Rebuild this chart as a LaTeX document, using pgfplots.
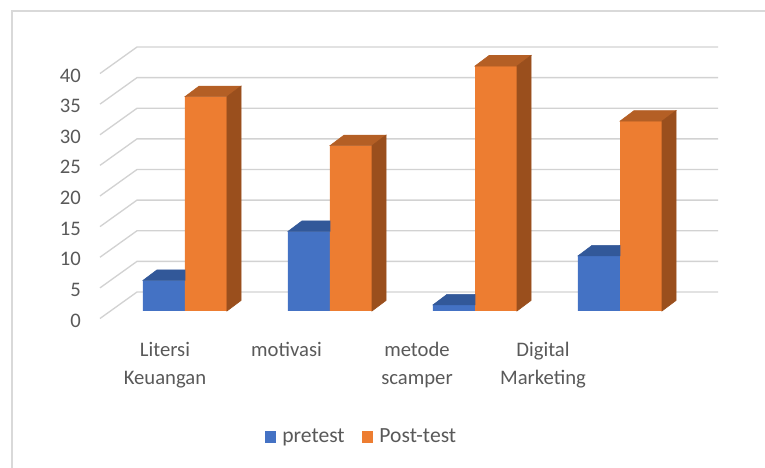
\documentclass[border=0pt]{standalone}
\usepackage{pgfplots}
\usepackage{pgfplotstable}
\pgfplotsset{compat=1.18}
\usepackage{fontspec}
\setmainfont{Carlito}
\definecolor{txt}{HTML}{595959}
\definecolor{gridc}{HTML}{D2D2D2}
\definecolor{framec}{HTML}{D9D9D9}
\definecolor{blueF}{HTML}{4472C4}
\definecolor{blueT}{HTML}{325899}
\definecolor{orangeF}{HTML}{ED7D31}
\definecolor{orangeT}{HTML}{B45F25}
\definecolor{orangeS}{HTML}{9A4F1D}
\pgfplotstableread{
idx pre post
1 5 35
2 13 27
3 1 40
4 9 31
}\data
\pgfdeclareplotmark{nomark}{}
% top + side faces of a bar, drawn at the top centre of its front face
\newcommand\facesfull[2]{%
  \pgfkeys{/pgf/fpu=false}%
  \pgfmathsetmacro\hh{\barh*4.59375}%
  \fill[#1] (-15.75pt,0pt) -- (15.75pt,0pt) -- (26.25pt,7.875pt) -- (-5.25pt,7.875pt) -- cycle;
  \fill[#2] (15.75pt,0pt) -- (26.25pt,7.875pt) -- (26.25pt,7.875pt-\hh pt) -- (15.75pt,-\hh pt) -- cycle;
}
% only the visible part of the top face (the rest lies behind the next, taller bar)
\newcommand\facestop[1]{%
  \fill[#1] (-15.75pt,0pt) -- (15.75pt,0pt) -- (15.75pt,7.875pt) -- (-5.25pt,7.875pt) -- cycle;
}
\begin{document}
\begin{tikzpicture}
\useasboundingbox (0,0) rectangle (573.75pt,351pt);
\draw[framec, line width=1.5pt] (9pt,0pt) -- (9pt,342.75pt) -- (573.75pt,342.75pt);
\begin{axis}[
  at={(82.5pt,117.75pt)}, anchor=south west,
  scale only axis, width=435.75pt, height=183.75pt,
  xmin=0.48276, xmax=4.48966, ymin=0, ymax=40,
  clip=false,
  axis line style={draw=none},
  major tick length=0pt,
  tick style={draw=none},
  ytick={0,5,10,15,20,25,30,35,40},
  xtick={0.862,1.700,2.600,3.469},
  xticklabels={{Litersi\\Keuangan},{motivasi},{metode\\scamper},{Digital\\Marketing}},
  /pgf/number format/assume math mode=true,
  ticklabel style={font=\fontsize{15.5}{21}\selectfont, text=txt},
  yticklabel style={inner sep=0pt, anchor=east, xshift=-21.75pt, yshift=-7.1pt},
  xticklabel style={align=center, anchor=north, yshift=-19.75pt},
  legend style={at={(0.4363,-0.514)}, anchor=center, draw=none, fill=none,
    legend columns=2, font=\fontsize{16.2}{19}\selectfont, text=txt,
    /tikz/every even column/.append style={column sep=8.5pt},
    nodes={inner xsep=4.5pt},
    legend cell align=left},
  legend image code/.code={\fill[#1] (0pt,-4.3pt) rectangle (8.6pt,4.3pt);},
]
\pgfplotsinvokeforeach{0,5,10,15,20,25,30,35,40}{
  \draw[gridc, line width=1pt] (axis cs:0.41379,#1-1.2245) -- (axis cs:0.66897,#1+3.102) -- (axis cs:4.6759,#1+3.102);
}
\addplot[forget plot, scatter, only marks, mark=nomark,
  scatter/@pre marker code/.code={\facestop{blueT}},
  scatter/@post marker code/.code={}]
  table[x expr=\thisrow{idx}-0.14483, y=pre] {\data};
\addplot[ybar, bar width=31.5pt, bar shift=0pt, fill=blueF, draw=none]
  table[x expr=\thisrow{idx}-0.14483, y=pre] {\data};
\addlegendentry{pretest}
\addplot[forget plot, scatter, only marks, mark=nomark,
  visualization depends on={rawy \as \barh},
  scatter/@pre marker code/.code={\facesfull{orangeT}{orangeS}},
  scatter/@post marker code/.code={}]
  table[x expr=\thisrow{idx}+0.14483, y=post] {\data};
\addplot[ybar, bar width=31.5pt, bar shift=0pt, fill=orangeF, draw=none]
  table[x expr=\thisrow{idx}+0.14483, y=post] {\data};
\addlegendentry{Post-test}
\end{axis}
\end{tikzpicture}
\end{document}
